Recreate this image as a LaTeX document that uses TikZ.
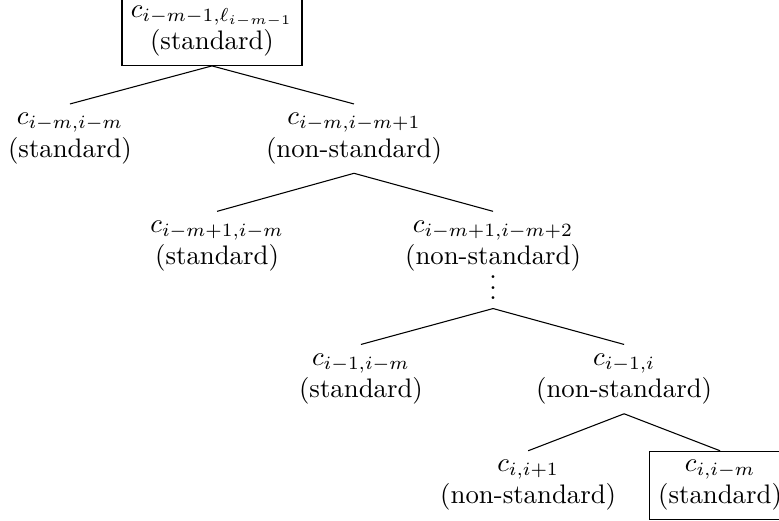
\documentclass[tikz,border=0pt]{standalone}
\usepackage{tikz}
\usetikzlibrary{positioning}

\begin{document}
\begin{tikzpicture}[
    cell/.style={               % Plain entries of the tree.
      align=center
    },
    chosen/.style={             % Boxed entries (first and last).
      cell,
      rectangle,
      draw
    },
    dotsnode/.style={           % Vertical ellipsis between levels.
      inner xsep=0pt,
      inner ysep=3pt,
      text height=9.3pt
    }]

    % Fix the visible area.
    \useasboundingbox (-79.1pt,24.6pt) rectangle (211.6pt,-169.8pt);

    % The entries, level by level.
    \node[chosen,anchor=south] (root) at (0,0) {$c_{i-m-1,\ell_{i-m-1}}$\\(standard)};
    \node[cell] (n1l) [below=14.2pt of root.south,xshift=-53pt] {$c_{i-m,i-m}$\\(standard)};
    \node[cell] (n1r) [below=14.2pt of root.south,xshift=53pt] {$c_{i-m,i-m+1}$\\(non-standard)};
    \node[cell] (n2l) [below=14.2pt of n1r.south,xshift=-51.1pt] {$c_{i-m+1,i-m}$\\(standard)};
    \node[cell] (n2r) [below=14.2pt of n1r.south,xshift=51.9pt] {$c_{i-m+1,i-m+2}$\\(non-standard)};
    \node[dotsnode] (dots) [below=10.4pt of n2r.south,anchor=south] {$\vdots$};
    \node[cell] (n3l) [below=13.4pt of dots.south,xshift=-49.3pt] {$c_{i-1,i-m}$\\(standard)};
    \node[cell] (n3r) [below=13.4pt of dots.south,xshift=48.9pt] {$c_{i-1,i}$\\(non-standard)};
    \node[cell] (n4l) [below=13.8pt of n3r.south,xshift=-35.8pt] {$c_{i,i+1}$\\(non-standard)};
    \node[chosen] (n4r) [below=13.8pt of n3r.south,xshift=35.8pt] {$c_{i,i-m}$\\(standard)};

    % Branches.
    \draw (root.south) -- (n1l.north);
    \draw (root.south) -- (n1r.north);
    \draw (n1r.south) -- (n2l.north);
    \draw (n1r.south) -- (n2r.north);
    \draw (dots.south) -- (n3l.north);
    \draw (dots.south) -- (n3r.north);
    \draw (n3r.south) -- (n4l.north);
    \draw (n3r.south) -- (n4r.north);
  \end{tikzpicture}
\end{document}
